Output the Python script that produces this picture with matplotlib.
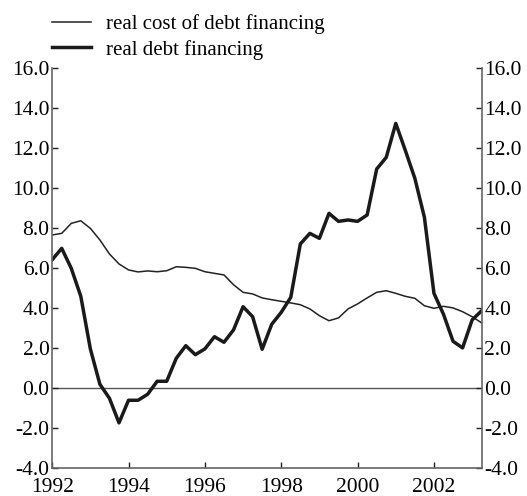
import numpy as np
import matplotlib.pyplot as plt

plt.rcParams['font.family'] = ['Liberation Serif', 'DejaVu Serif']

# quarterly observations, 1992Q1 .. 2003Q2
years = 1992 + np.arange(46) * 0.25

debt_cost = [7.67, 7.75, 8.25, 8.38, 8.0, 7.42, 6.72, 6.22,
             5.92, 5.82, 5.87, 5.83, 5.88, 6.08, 6.05, 6.0,
             5.83, 5.75, 5.67, 5.18, 4.8, 4.72, 4.52, 4.43,
             4.35, 4.27, 4.18, 3.97, 3.63, 3.38, 3.52, 3.97,
             4.22, 4.52, 4.8, 4.88, 4.75, 4.6, 4.5, 4.13,
             4.0, 4.1, 4.02, 3.83, 3.58, 3.27]

debt_fin = [6.43, 7.0, 6.0, 4.6, 1.97, 0.2, -0.5, -1.73,
            -0.6, -0.6, -0.3, 0.35, 0.35, 1.5, 2.13, 1.68,
            1.97, 2.58, 2.3, 2.92, 4.08, 3.58, 1.95, 3.2,
            3.8, 4.55, 7.22, 7.75, 7.5, 8.75, 8.35, 8.42,
            8.35, 8.67, 10.97, 11.55, 13.25, 11.9, 10.5, 8.55,
            4.75, 3.7, 2.35, 2.02, 3.42, 3.88]

yticks = np.arange(-4, 17, 2)
xticks = [1992, 1994, 1996, 1998, 2000, 2002]

fig = plt.figure(figsize=(5.27, 4.96), dpi=100)
ax = fig.add_axes([0.099, 0.056, 0.815, 0.806])

ax.axhline(0, color='#555555', lw=1.0, zorder=1)
l1, = ax.plot(years, debt_cost, color='#222222', lw=1.1, label='real cost of debt financing')
l2, = ax.plot(years, debt_fin, color='#1a1a1a', lw=2.5, label='real debt financing')

ax.set_xlim(1992, 2003.25)
ax.set_ylim(-4, 16)
ax.set_yticks(yticks)
ax.set_yticklabels(['%.1f' % v for v in yticks])
ax.set_xticks(xticks)
ax.set_xticklabels([str(v) for v in xticks])

ax.spines['top'].set_visible(False)
for s in ['left', 'right', 'bottom']:
    ax.spines[s].set_color('#666666')
    ax.spines[s].set_linewidth(1.2)

ax.tick_params(axis='both', direction='in', length=4, width=1, labelsize=15.5, color='#222222')
ax.tick_params(axis='y', left=True, right=True, labelleft=True, labelright=True, pad=2)
ax.tick_params(axis='x', pad=7)

fig.legend(handles=[l1, l2], loc='upper left', bbox_to_anchor=(0.099, 0.972),
           frameon=False, fontsize=15, handlelength=1.85, handletextpad=0.72,
           labelspacing=0.28, borderaxespad=0, borderpad=0)

fig.savefig('out.png', dpi=100)
